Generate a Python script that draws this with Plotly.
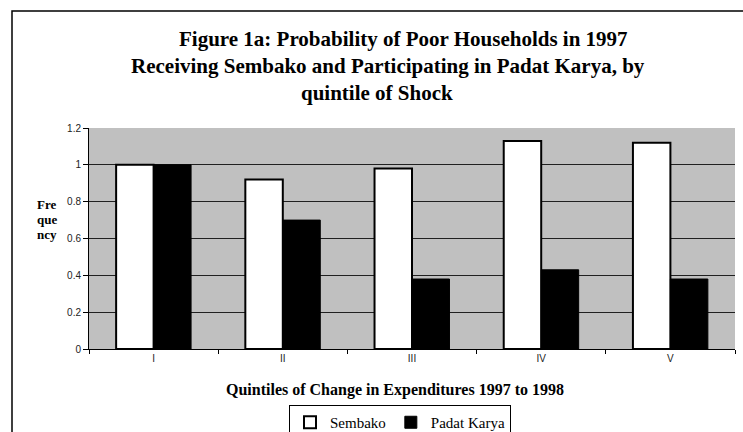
import plotly.graph_objects as go

categories = ["I", "II", "III", "IV", "V"]
sembako = [1.0, 0.92, 0.98, 1.13, 1.12]
padat_karya = [1.0, 0.70, 0.38, 0.43, 0.38]
y_ticks = [0, 0.2, 0.4, 0.6, 0.8, 1, 1.2]
y_tick_labels = ["0", "0.2", "0.4", "0.6", "0.8", "1", "1.2"]

W, H = 743, 432
L, R, T, B = 89, 8, 128, 83
pw, ph = W - L - R, H - T - B

def px(x):
    return (x - L) / pw

def py(y):
    return (H - B - y) / ph

serif = "Liberation Serif, Times New Roman, serif"
sans = "Liberation Sans, Arial, sans-serif"

fig = go.Figure()
fig.add_trace(go.Bar(
    x=categories, y=sembako, name="Sembako",
    marker=dict(color="white", line=dict(color="black", width=2)),
))
fig.add_trace(go.Bar(
    x=categories, y=padat_karya, name="Padat Karya",
    marker=dict(color="black", line=dict(color="black", width=1)),
))

fig.update_layout(
    width=W, height=H,
    margin=dict(l=L, r=R, t=T, b=B, autoexpand=False),
    paper_bgcolor="white",
    plot_bgcolor="#C0C0C0",
    barmode="group",
    bargap=0.42,
    bargroupgap=0,
    font=dict(family=sans, size=10, color="black"),
    showlegend=True,
    legend=dict(
        orientation="h", x=px(289), xanchor="left", y=py(405), yanchor="top",
        bordercolor="black", borderwidth=1, bgcolor="white",
        font=dict(family=serif, size=15, color="black"),
        itemwidth=30, tracegroupgap=0,
    ),
    xaxis=dict(
        showline=True, linecolor="black", linewidth=1,
        ticks="outside", ticklen=4, tickcolor="black", tickson="boundaries",
        tickfont=dict(family=sans, size=10, color="#222"),
        showgrid=False,
    ),
    yaxis=dict(
        range=[0, 1.2], tickvals=y_ticks, ticktext=y_tick_labels,
        showline=True, linecolor="black", linewidth=1,
        ticks="outside", ticklen=5, tickcolor="black",
        tickfont=dict(family=sans, size=10, color="#222"),
        showgrid=True, gridcolor="#202020", gridwidth=1,
        zeroline=True, zerolinecolor="black", zerolinewidth=1,
    ),
)

title_lines = [
    ("Figure 1a: Probability of Poor Households in 1997", 403, 39),
    ("Receiving Sembako and Participating in Padat Karya, by", 388, 66),
    ("quintile of Shock", 377, 93),
]
for text, cx, cy in title_lines:
    fig.add_annotation(
        text=f"<b>{text}</b>", x=px(cx), y=py(cy), xref="paper", yref="paper",
        xanchor="center", yanchor="middle", showarrow=False,
        font=dict(family=serif, size=21, color="black"),
    )

fig.add_annotation(
    text="<b>Quintiles of Change in Expenditures 1997 to 1998</b>",
    x=px(395), y=py(390), xref="paper", yref="paper",
    xanchor="center", yanchor="middle", showarrow=False,
    font=dict(family=serif, size=16, color="black"),
)

for text, cy in [("Fre", 204), ("que", 219), ("ncy", 234)]:
    fig.add_annotation(
        text=f"<b>{text}</b>",
        x=px(36), y=py(cy), xref="paper", yref="paper",
        xanchor="left", yanchor="middle", showarrow=False,
        font=dict(family=serif, size=13, color="black"),
        borderpad=0,
    )

# outer chart border (extends beyond the right and bottom edges of the image)
fig.add_shape(
    type="rect", xref="paper", yref="paper",
    x0=px(12), x1=px(W + 20), y0=py(H + 20), y1=py(11),
    line=dict(color="black", width=1.5), fillcolor="rgba(0,0,0,0)", layer="below",
)

fig.write_html(
    "out.html",
    config={"displayModeBar": False},
    post_script="document.body.style.margin='0';document.body.style.overflow='hidden';",
)
